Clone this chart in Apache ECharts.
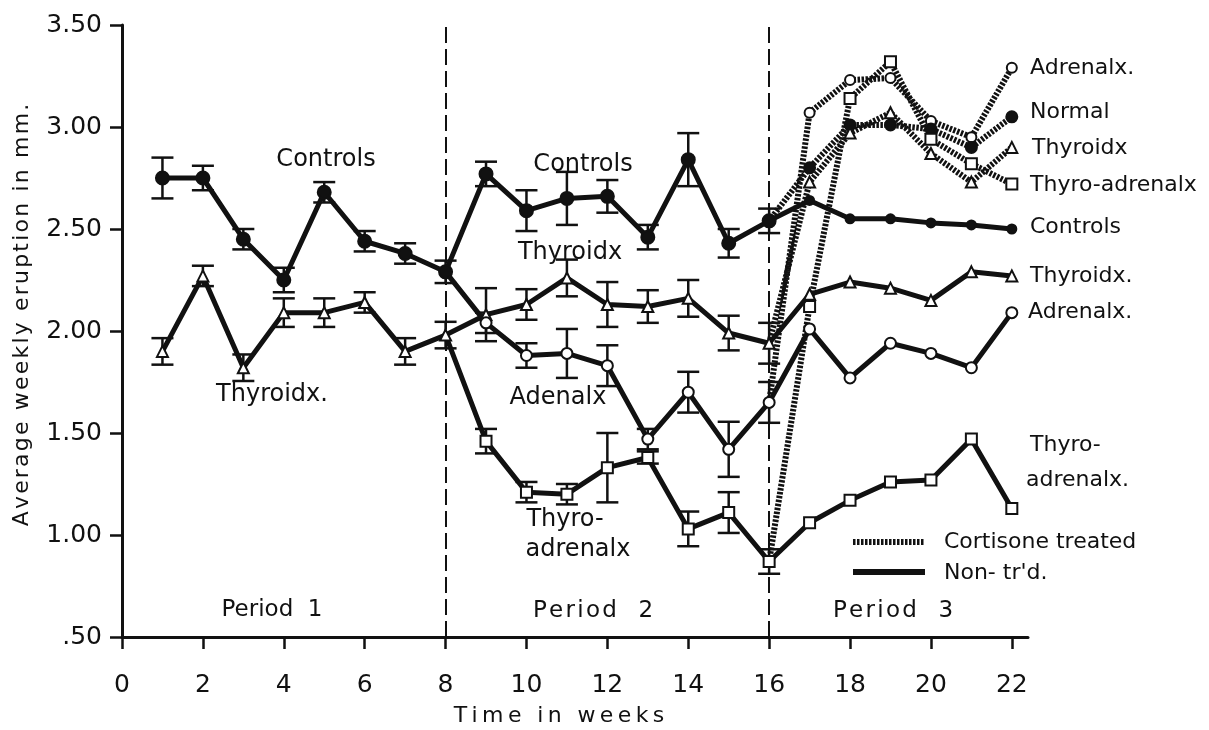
<!DOCTYPE html>
<html>
<head>
<meta charset="utf-8">
<script src="https://cdn.jsdelivr.net/npm/echarts@6/dist/echarts.min.js"></script>
<style>
  html, body { margin: 0; padding: 0; background: #fff; }
  #chart { width: 1209px; height: 730px; }
</style>
</head>
<body>
<div id="chart"></div>
<script>
// weeks and ticks
const weeks = [1, 2, 3, 4, 5, 6, 7, 8, 9, 10, 11, 12, 13, 14, 15, 16, 17, 18, 19, 20, 21, 22]
const xTicks = [0, 2, 4, 6, 8, 10, 12, 14, 16, 18, 20, 22]
const periodLines = [8, 16]

// non-treated groups (null = no value that week)
const controls = [2.75, 2.75, 2.45, 2.25, 2.68, 2.44, 2.38, 2.29, 2.77, 2.59, 2.65, 2.66, 2.46, 2.84, 2.43, 2.54, 2.64, 2.55, 2.55, 2.53, 2.52, 2.50]
const controlsErr = [0.10, 0.06, 0.05, 0.06, 0.05, 0.05, 0.05, 0.055, 0.06, 0.10, 0.13, 0.08, 0.06, 0.13, 0.07, 0.06, null, null, null, null, null, null]
const thyroidx = [1.90, 2.27, 1.82, 2.09, 2.09, 2.14, 1.90, 1.98, 2.08, 2.13, 2.26, 2.13, 2.12, 2.16, 1.99, 1.94, 2.18, 2.24, 2.21, 2.15, 2.29, 2.27]
const thyroidxErr = [0.065, 0.05, 0.065, 0.07, 0.07, 0.05, 0.065, 0.065, 0.13, 0.075, 0.09, 0.11, 0.08, 0.09, 0.085, 0.10, null, null, null, null, null, null]
const adrenalx = [null, null, null, null, null, null, null, 2.29, 2.04, 1.88, 1.89, 1.83, 1.47, 1.70, 1.42, 1.65, 2.01, 1.77, 1.94, 1.89, 1.82, 2.09]
const adrenalxErr = [null, null, null, null, null, null, null, null, 0.05, 0.06, 0.12, 0.10, 0.05, 0.10, 0.135, 0.10, null, null, null, null, null, null]
const thyroAdrenalx = [null, null, null, null, null, null, null, 1.98, 1.46, 1.21, 1.20, 1.33, 1.38, 1.03, 1.11, 0.87, 1.06, 1.17, 1.26, 1.27, 1.47, 1.13]
const thyroAdrenalxErr = [null, null, null, null, null, null, null, null, 0.06, 0.05, 0.05, 0.17, 0.03, 0.085, 0.10, 0.06, null, null, null, null, null, null]

// cortisone treated groups (period 3, start from week 16)
const cortWeeks = [16, 17, 18, 19, 20, 21, 22]
const cortAdrenalx = [1.65, 3.07, 3.23, 3.24, 3.03, 2.95, 3.29]
const cortNormal = [2.54, 2.80, 3.01, 3.01, 2.99, 2.90, 3.05]
const cortThyroidx = [1.94, 2.73, 2.97, 3.07, 2.87, 2.73, 2.90]
const cortThyroAdrenalx = [0.87, 2.12, 3.14, 3.32, 2.94, 2.82, 2.72]

const INK = '#111'
const FONT = 'DejaVu Sans'

// first point of a branch is shared with the parent line -> no marker
function pairs (xs, ys) {
  const out = xs.map((x, i) => [x, ys[i]]).filter(d => d[1] != null)
  return out
}
function branch (xs, ys) {
  return pairs(xs, ys).map((d, i) => i === 0 ? { value: d, symbol: 'none' } : d)
}
function errPairs (xs, ys, es) {
  return xs.map((x, i) => [x, ys[i], es[i]]).filter(d => d[1] != null && d[2] != null)
}
function spaced (s, sep) {
  return s.split('').join(sep)
}

function renderBar (params, api) {
  const x = api.value(0)
  const y = api.value(1)
  const e = api.value(2)
  const top = api.coord([x, y + e])
  const bot = api.coord([x, y - e])
  const cap = 11
  const st = { stroke: INK, lineWidth: 2.5 }
  return {
    type: 'group',
    children: [
      { type: 'line', shape: { x1: top[0], y1: top[1], x2: bot[0], y2: bot[1] }, style: st },
      { type: 'line', shape: { x1: top[0] - cap, y1: top[1], x2: top[0] + cap, y2: top[1] }, style: st },
      { type: 'line', shape: { x1: bot[0] - cap, y1: bot[1], x2: bot[0] + cap, y2: bot[1] }, style: st }
    ]
  }
}

function solid (name, data, symbol, filled, size) {
  return {
    name: name,
    type: 'line',
    data: data,
    symbol: symbol,
    symbolSize: size,
    showAllSymbol: true,
    lineStyle: { color: INK, width: 5 },
    itemStyle: { color: filled ? INK : '#fff', borderColor: INK, borderWidth: 2 },
    z: 5
  }
}
function dotted (name, data, symbol, filled, size) {
  return {
    name: name,
    type: 'line',
    data: data,
    symbol: symbol,
    symbolSize: size,
    showAllSymbol: true,
    lineStyle: { color: INK, width: 6, type: [2.5, 1.5] },
    itemStyle: { color: filled ? INK : '#fff', borderColor: INK, borderWidth: 2 },
    z: 4
  }
}
function bars (data) {
  return { type: 'custom', renderItem: renderBar, data: data, z: 3, silent: true }
}

function txt (x, y, text, size, align, rot) {
  return {
    type: 'text',
    x: x,
    y: y,
    rotation: rot || 0,
    z: 100,
    style: {
      text: text,
      font: (size || 24) + 'px "' + FONT + '"',
      fill: INK,
      align: align || 'center',
      verticalAlign: 'middle'
    }
  }
}

const chart = echarts.init(document.getElementById('chart'))
chart.setOption({
  animation: false,
  backgroundColor: '#fff',
  grid: { left: 122, right: 181, top: 25, bottom: 93 },
  xAxis: {
    type: 'value',
    min: 0,
    max: 22.4,
    axisLine: { lineStyle: { color: INK, width: 3 } },
    axisTick: { customValues: xTicks, length: 12, lineStyle: { color: INK, width: 2.5 } },
    axisLabel: { customValues: xTicks, margin: 36, color: INK, fontFamily: FONT, fontSize: 25 },
    splitLine: { show: false }
  },
  yAxis: {
    type: 'value',
    min: 0.5,
    max: 3.5,
    interval: 0.5,
    axisLine: { lineStyle: { color: INK, width: 3 } },
    axisTick: { length: 12, lineStyle: { color: INK, width: 2.5 } },
    axisLabel: {
      margin: 20,
      color: INK,
      fontFamily: FONT,
      fontSize: 25,
      formatter: v => v === 0.5 ? '.50' : v.toFixed(2)
    },
    splitLine: { show: false }
  },
  series: [
    bars(errPairs(weeks, controls, controlsErr)),
    bars(errPairs(weeks, thyroidx, thyroidxErr)),
    bars(errPairs(weeks, adrenalx, adrenalxErr)),
    bars(errPairs(weeks, thyroAdrenalx, thyroAdrenalxErr)),
    Object.assign(solid('Controls', pairs(weeks, controls), 'circle', true, (v, p) => v[0] > 16 ? 9 : 13), {
      markLine: {
        silent: true,
        symbol: 'none',
        label: { show: false },
        lineStyle: { color: INK, width: 2, type: [16, 6] },
        data: periodLines.map(v => ({ xAxis: v }))
      }
    }),
    solid('Thyroidx', pairs(weeks, thyroidx), 'triangle', false, 11),
    solid('Adrenalx', branch(weeks, adrenalx), 'circle', false, 11),
    solid('Thyro-adrenalx', branch(weeks, thyroAdrenalx), 'rect', false, 11),
    dotted('Adrenalx cortisone', branch(cortWeeks, cortAdrenalx), 'circle', false, 10),
    dotted('Normal cortisone', branch(cortWeeks, cortNormal), 'circle', true, 11),
    dotted('Thyroidx cortisone', branch(cortWeeks, cortThyroidx), 'triangle', false, 11),
    dotted('Thyro-adrenalx cortisone', branch(cortWeeks, cortThyroAdrenalx), 'rect', false, 11)
  ],
  graphic: [
    // axis titles
    txt(559, 716, spaced('Time in weeks', '\u2009'), 22),
    txt(22, 315, spaced('Average weekly eruption in mm.', '\u200A'), 22, 'center', Math.PI / 2),
    // annotations inside the plot
    txt(326, 160, 'Controls'),
    txt(583, 165, 'Controls'),
    txt(570, 253, 'Thyroidx'),
    txt(272, 395, 'Thyroidx.'),
    txt(558, 398, 'Adenalx'),
    txt(565, 520, 'Thyro-'),
    txt(578, 550, 'adrenalx'),
    txt(272, 610, 'Period  1', 23),
    txt(593, 611, spaced('Period  2', '\u200A'), 23),
    txt(893, 611, spaced('Period  3', '\u200A'), 23),
    // labels at the right end
    txt(1030, 68, 'Adrenalx.', 22, 'left'),
    txt(1030, 112, 'Normal', 22, 'left'),
    txt(1032, 148, 'Thyroidx', 22, 'left'),
    txt(1030, 185, 'Thyro-adrenalx', 22, 'left'),
    txt(1030, 227, 'Controls', 22, 'left'),
    txt(1030, 276, 'Thyroidx.', 22, 'left'),
    txt(1028, 312, 'Adrenalx.', 22, 'left'),
    txt(1030, 445, 'Thyro-', 22, 'left'),
    txt(1026, 480, 'adrenalx.', 22, 'left'),
    // key
    txt(944, 542, 'Cortisone treated', 22, 'left'),
    txt(944, 573, 'Non- tr\'d.', 22, 'left'),
    {
      type: 'line',
      shape: { x1: 853, y1: 542, x2: 925, y2: 542 },
      style: { stroke: INK, lineWidth: 6, lineDash: [2.5, 1.5] }
    },
    {
      type: 'line',
      shape: { x1: 853, y1: 572, x2: 925, y2: 572 },
      style: { stroke: INK, lineWidth: 6 }
    }
  ]
})
</script>
</body>
</html>
